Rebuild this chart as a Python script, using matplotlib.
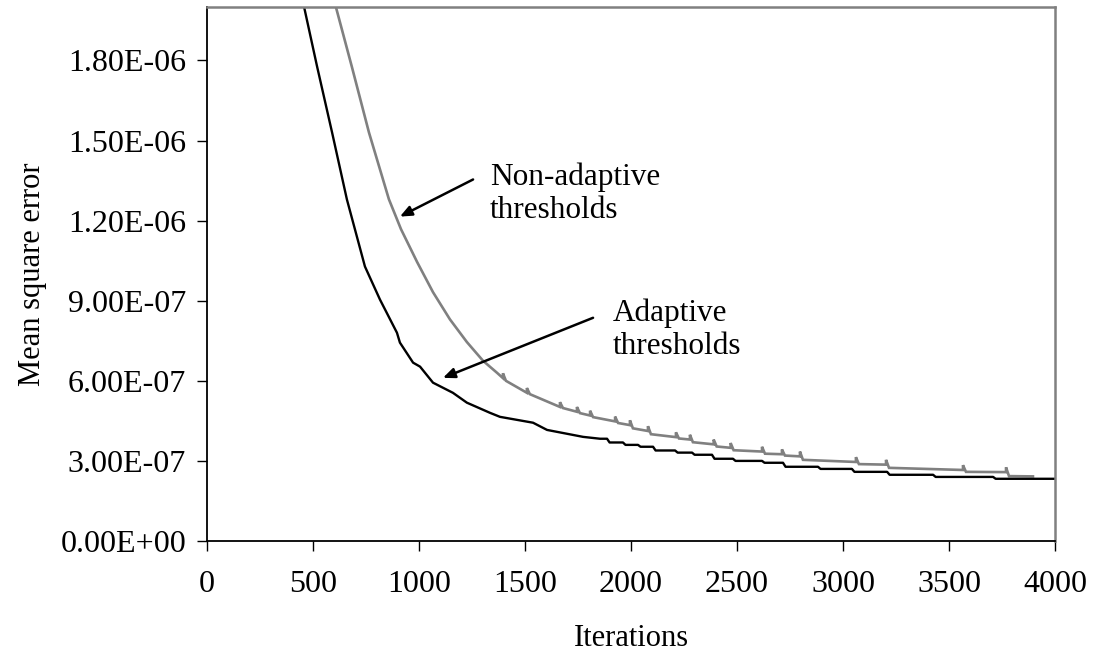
import matplotlib
matplotlib.use("Agg")
import matplotlib.pyplot as plt
from matplotlib.ticker import FixedLocator, FixedFormatter

plt.rcParams['font.family'] = ['Liberation Serif', 'DejaVu Serif']

# ---- Adaptive thresholds (black) ----
adaptive_it = [450, 458, 519, 590, 660, 745, 816, 896, 910, 972, 1005, 1066, 1160,
               1226, 1335, 1382, 1538, 1604, 1774, 1854]
adaptive_val = [2.03e-6, 2.0e-6, 1.778e-6, 1.53e-6, 1.279e-6, 1.028e-6, 9.04e-7,
                7.8e-7, 7.43e-7, 6.68e-7, 6.53e-7, 5.93e-7, 5.55e-7, 5.18e-7, 4.8e-7,
                4.65e-7, 4.43e-7, 4.16e-7, 3.9e-7, 3.83e-7]
# stepwise tail: iteration where each drop occurs and the level after it
adaptive_step_it = [1887, 1962, 2033, 2104, 2208, 2288, 2382, 2481, 2618, 2717,
                    2882, 3042, 3208, 3425, 3708]
adaptive_step_val = [3.69e-7, 3.60e-7, 3.53e-7, 3.39e-7, 3.31e-7, 3.23e-7, 3.08e-7,
                     3.00e-7, 2.93e-7, 2.78e-7, 2.70e-7, 2.59e-7, 2.48e-7, 2.40e-7,
                     2.33e-7]
adaptive_last_it = 4000

# ---- Non-adaptive thresholds (gray) ----
fixed_it = [600, 608, 684, 764, 858, 915, 991, 1066, 1146, 1226, 1302, 1368]
fixed_val = [2.03e-6, 2.0e-6, 1.774e-6, 1.53e-6, 1.28e-6, 1.168e-6, 1.045e-6,
             9.32e-7, 8.3e-7, 7.45e-7, 6.75e-7, 6.3e-7]
# sawtooth tail: iteration of each jump, level just before it and just after it
fixed_jump_it = [1396, 1509, 1665, 1745, 1807, 1925, 1995, 2080, 2212, 2278,
                 2390, 2470, 2618, 2712, 2797, 3061, 3203, 3566, 3769]
fixed_pre = [6.10e-7, 5.55e-7, 5.02e-7, 4.84e-7, 4.70e-7, 4.48e-7, 4.34e-7, 4.12e-7,
             3.89e-7, 3.80e-7, 3.62e-7, 3.49e-7, 3.35e-7, 3.25e-7, 3.17e-7, 2.96e-7,
             2.86e-7, 2.66e-7, 2.58e-7]
fixed_post = [6.00e-7, 5.50e-7, 4.98e-7, 4.79e-7, 4.64e-7, 4.42e-7, 4.22e-7, 4.00e-7,
              3.84e-7, 3.70e-7, 3.54e-7, 3.40e-7, 3.27e-7, 3.20e-7, 3.04e-7, 2.88e-7,
              2.74e-7, 2.59e-7, 2.43e-7]
fixed_jump_height = 1.8e-8
fixed_last = (3896, 2.42e-7)

x_ticks = [0, 500, 1000, 1500, 2000, 2500, 3000, 3500, 4000]
y_ticks = [0, 3e-7, 6e-7, 9e-7, 1.2e-6, 1.5e-6, 1.8e-6]
y_tick_labels = ["0.00E+00", "3.00E-07", "6.00E-07", "9.00E-07",
                 "1.20E-06", "1.50E-06", "1.80E-06"]

# build the polylines
ax_x, ax_y = list(adaptive_it), list(adaptive_val)
level = adaptive_val[-1]
for s, v in zip(adaptive_step_it, adaptive_step_val):
    ax_x += [s, s + 12]
    ax_y += [level, v]
    level = v
ax_x.append(adaptive_last_it)
ax_y.append(level)

fx, fy = list(fixed_it), list(fixed_val)
for s, pre, post in zip(fixed_jump_it, fixed_pre, fixed_post):
    fx += [s, s, s + 14]
    fy += [pre, pre + fixed_jump_height, post]
fx.append(fixed_last[0])
fy.append(fixed_last[1])

fig = plt.figure(figsize=(10.93, 6.63), dpi=100)
ax = fig.add_axes([207 / 1093, 122 / 663, 848 / 1093, 534 / 663])

ax.plot(fx, fy, color='#808080', lw=1.9, solid_joinstyle='miter')
ax.plot(ax_x, ax_y, color='black', lw=1.7)

ax.set_xlim(0, 4000)
ax.set_ylim(0, 2.0e-6)
ax.xaxis.set_major_locator(FixedLocator(x_ticks))
ax.set_xticklabels([str(t) for t in x_ticks])
ax.yaxis.set_major_locator(FixedLocator(y_ticks))
ax.yaxis.set_major_formatter(FixedFormatter(y_tick_labels))

for side in ('left', 'bottom'):
    ax.spines[side].set_color('black')
    ax.spines[side].set_linewidth(1.3)
for side in ('top', 'right'):
    ax.spines[side].set_color('#808080')
    ax.spines[side].set_linewidth(1.8)

ax.tick_params(axis='both', direction='out', length=7, width=1.0, labelsize=23,
               colors='black')
ax.tick_params(axis='y', pad=8)
ax.tick_params(axis='x', pad=14)

ax.set_xlabel('Iterations', fontsize=22, labelpad=18)
ax.set_ylabel('Mean square error', fontsize=22, labelpad=10)

arrow = dict(arrowstyle='-|>,head_length=0.7,head_width=0.3', color='black',
             lw=1.8, shrinkA=0, shrinkB=0)
ax.annotate('', xy=(910, 1.215e-6), xytext=(1255, 1.354e-6), arrowprops=arrow)
ax.annotate('', xy=(1113, 6.11e-7), xytext=(1821, 8.36e-7), arrowprops=arrow)
ax.text(1335, 1.30e-6, 'Non-adaptive\nthresholds', fontsize=22.5, ha='left',
        va='center', linespacing=1.2)
ax.text(1915, 7.91e-7, 'Adaptive\nthresholds', fontsize=22.5, ha='left',
        va='center', linespacing=1.2)

fig.savefig('out.png', dpi=100)
